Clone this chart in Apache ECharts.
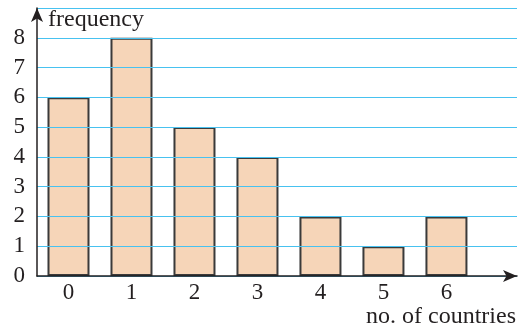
<!DOCTYPE html>
<html>
<head>
<meta charset="utf-8">
<script src="https://cdn.jsdelivr.net/npm/echarts@6/dist/echarts.min.js"></script>
<style>html,body{margin:0;padding:0;background:#fff}#c{width:525px;height:328px}</style>
</head>
<body>
<div id="c"></div>
<script>
const categories = [0, 1, 2, 3, 4, 5, 6];
const frequency = [6, 8, 5, 4, 2, 1, 2];
const yTicks = [0, 1, 2, 3, 4, 5, 6, 7, 8];

const FONT = 'Liberation Serif';
const chart = echarts.init(document.getElementById('c'), null, {renderer: 'canvas'});
chart.setOption({
  animation: false,
  backgroundColor: '#fff',
  title: [
    {text: 'frequency', left: 43, top: 3, textStyle: {fontFamily: FONT, fontSize: 24, fontWeight: 'normal', color: '#231f20'}},
    {text: 'no. of countries', right: 4, top: 300, textStyle: {fontFamily: FONT, fontSize: 24, fontWeight: 'normal', color: '#231f20'}}
  ],
  grid: {left: 37, right: 8, top: 8, bottom: 52, containLabel: false},
  xAxis: {
    type: 'value', min: -0.5, max: 7.12, z: 5,
    axisLine: {show: true, onZero: false, lineStyle: {color: '#231f20', width: 1.5}, symbol: ['none', 'arrow'], symbolSize: [9, 14]},
    axisTick: {show: false},
    splitLine: {show: false},
    axisLabel: {customValues: categories, fontFamily: FONT, fontSize: 23, color: '#231f20', margin: 5}
  },
  yAxis: {
    type: 'value', min: 0, max: 9, interval: 1, z: 5,
    axisLine: {show: true, onZero: false, lineStyle: {color: '#231f20', width: 1.5}, symbol: ['none', 'arrow'], symbolSize: [9, 14]},
    axisTick: {show: false},
    splitLine: {show: true, lineStyle: {color: '#48c2f0', width: 1.2}},
    axisLabel: {customValues: yTicks, fontFamily: FONT, fontSize: 23, color: '#231f20', margin: 12}
  },
  series: [{
    type: 'bar',
    data: categories.map((c, i) => [c, frequency[i]]),
    barWidth: 42,
    itemStyle: {color: '#f6d5b8', borderColor: '#3a3a3a', borderWidth: 2}
  }]
});
</script>
</body>
</html>
